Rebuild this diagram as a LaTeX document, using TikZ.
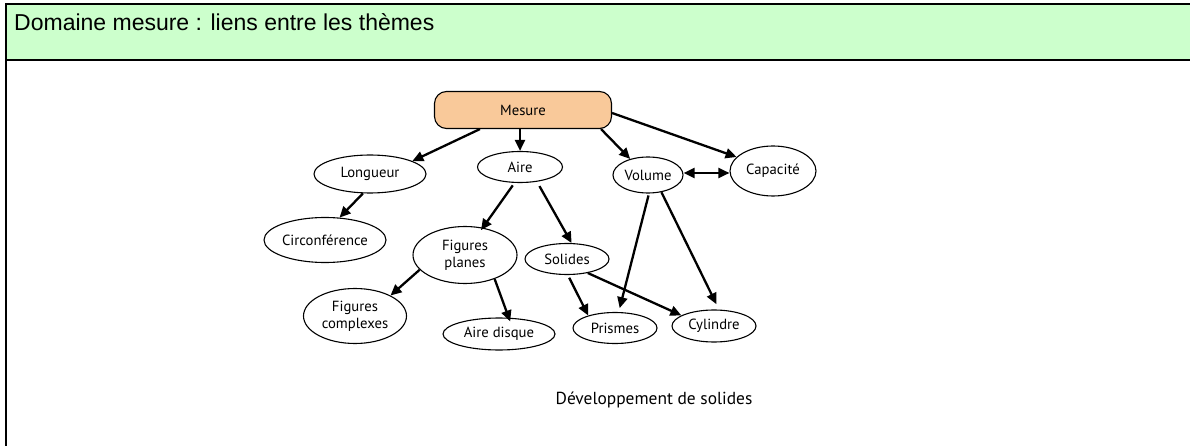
\documentclass[tikz,border=0pt]{standalone}
\usepackage{fontspec}
\setmainfont{PT Sans}
\newfontfamily\titlefont{Liberation Sans}
\usetikzlibrary{arrows.meta,shapes.geometric}
\definecolor{hdrgreen}{HTML}{CCFFCC}
\definecolor{peach}{HTML}{F9C99A}
\tikzset{
  lbl/.style={font=\fontsize{14.7}{17}\selectfont},
  ell/.style={ellipse,draw,line width=1.1pt,inner sep=0pt,align=center,lbl},
  arr/.style={line width=2.3pt,-{Triangle[length=11pt,width=10pt]}},
  darr/.style={line width=2.3pt,{Triangle[length=11pt,width=10pt]}-{Triangle[length=11pt,width=10pt]}},
}
\begin{document}
\begin{tikzpicture}[x=1pt,y=-1pt]
\useasboundingbox (0,0) rectangle (1190,446);
% header
\fill[hdrgreen] (6,4) rectangle (1190,60);
\draw[line width=2pt] (1190,4) -- (6,4) -- (6,446);
\draw[line width=2.2pt] (6,60) -- (1190,60);
\node[anchor=base west,inner sep=0pt,font=\titlefont\fontsize{23}{26}\selectfont] (title) at (14,31) {Domaine mesure : liens entre les thèmes};
% nodes
\node[draw,fill=peach,rounded corners=12pt,line width=1.1pt,minimum width=177pt,minimum height=37pt,inner sep=0pt,lbl] (mes) at (523,110) {Mesure};
\node[ell,minimum width=112pt,minimum height=38pt] (lon) at (370,174) {Longueur};
\node[ell,minimum width=85pt,minimum height=31pt] (aire) at (520,167) {Aire};
\node[ell,minimum width=70pt,minimum height=36pt] (vol) at (648,175) {Volume};
\node[ell,minimum width=86pt,minimum height=50pt] (cap) at (773,171) {Capacité};
\node[ell,minimum width=122pt,minimum height=45pt] (cir) at (325,240) {Circonférence};
\node[ell,minimum width=104pt,minimum height=57pt] (fp) at (465,255) {Figures\\planes};
\node[ell,minimum width=84pt,minimum height=31pt] (sol) at (567,259) {Solides};
\node[ell,minimum width=103pt,minimum height=55pt] (fc) at (355,316) {Figures\\complexes};
\node[ell,minimum width=112pt,minimum height=32pt] (ad) at (499,334) {Aire disque};
\node[ell,minimum width=84pt,minimum height=31pt] (pri) at (615,328) {Prismes};
\node[ell,minimum width=84pt,minimum height=32pt] (cyl) at (714,326) {Cylindre};
\node[inner sep=0pt,font=\fontsize{17.4}{20}\selectfont] (dev) at (654,400) {Développement de solides};
% connectors
\draw[arr] ([xshift=-43pt]mes.south) -- (lon.17);
\draw[arr] ([xshift=-3pt]mes.south) -- (aire.north);
\draw[arr] ([xshift=78pt]mes.south) -- (vol.138);
\draw[arr] ([yshift=-3pt]mes.east) -- (cap.159);
\draw[darr] ([yshift=2pt]vol.east) -- ([yshift=-2pt]cap.west);
\draw[arr] (lon.-110) -- (cir.57);
\draw[arr,shorten <=3pt,shorten >=-3pt] (aire.-109) -- (fp.57);
\draw[arr,shorten <=5pt] (aire.-41) -- (sol.74);
\draw[arr] (fp.-162) -- (fc.30);
\draw[arr,shorten >=-4pt] (fp.-39) -- (ad.59);
\draw[arr,shorten <=3pt] (sol.-87) -- (pri.155);
\draw[arr] (sol.-34) -- (cyl.162);
\draw[arr,shorten <=2pt,shorten >=4pt] (vol.-87) -- (pri.77);
\draw[arr,shorten >=6pt] (vol.-52) -- (cyl.73);
\end{tikzpicture}
\end{document}
